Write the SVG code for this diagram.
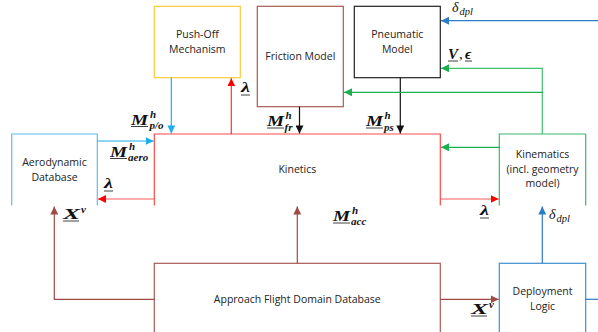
<svg xmlns="http://www.w3.org/2000/svg" width="598" height="332" viewBox="0 0 598 332">
<style>
.box{fill:#fff;stroke-width:1.2}
.lbl{font-family:"Open Sans","Liberation Sans",sans-serif;font-size:10.5px;fill:#222;text-anchor:middle}
.m{font-family:"Liberation Serif","DejaVu Serif",serif;font-weight:bold;font-style:italic;font-size:15px;fill:#111}
.s{font-family:"Liberation Serif","DejaVu Serif",serif;font-weight:bold;font-style:italic;font-size:11px;fill:#111}
.d{font-family:"Liberation Serif","DejaVu Serif",serif;font-style:italic;font-size:14px;fill:#111}
.ds{font-family:"Liberation Serif","DejaVu Serif",serif;font-style:italic;font-size:10.5px;fill:#111}
.c{fill:none;stroke-width:1.2}
.u{stroke:#111;stroke-width:0.8}
</style>
<defs>
<marker id="aR" markerUnits="userSpaceOnUse" markerWidth="10" markerHeight="8" refX="8" refY="4" orient="auto"><path d="M0,0 L8,4 L0,8 z" fill="#ff0000"/></marker>
<marker id="aLB" markerUnits="userSpaceOnUse" markerWidth="10" markerHeight="8" refX="8" refY="4" orient="auto"><path d="M0,0 L8,4 L0,8 z" fill="#1cb0ea"/></marker>
<marker id="aB" markerUnits="userSpaceOnUse" markerWidth="10" markerHeight="8" refX="8" refY="4" orient="auto"><path d="M0,0 L8,4 L0,8 z" fill="#2a7cc7"/></marker>
<marker id="aG" markerUnits="userSpaceOnUse" markerWidth="10" markerHeight="8" refX="8" refY="4" orient="auto"><path d="M0,0 L8,4 L0,8 z" fill="#19b04d"/></marker>
<marker id="aK" markerUnits="userSpaceOnUse" markerWidth="10" markerHeight="8" refX="8" refY="4" orient="auto"><path d="M0,0 L8,4 L0,8 z" fill="#111"/></marker>
<marker id="aBr" markerUnits="userSpaceOnUse" markerWidth="10" markerHeight="8" refX="8" refY="4" orient="auto"><path d="M0,0 L8,4 L0,8 z" fill="#9e4a45"/></marker>
</defs>
<rect width="598" height="332" fill="#fff"/>

<g id="pushoff">
<rect class="box" x="154.3" y="6.3" width="86" height="71.4" stroke="#ffc83c"/>
<text class="lbl" x="197.3" y="38">Push-Off</text>
<text class="lbl" x="197.3" y="52.5">Mechanism</text>
</g>
<g id="friction">
<rect class="box" x="257.3" y="6.3" width="86" height="100.4" stroke="#a85a55"/>
<text class="lbl" x="300.3" y="60">Friction Model</text>
</g>
<g id="pneumatic">
<rect class="box" x="354.3" y="6.3" width="86" height="71.4" stroke="#222"/>
<text class="lbl" x="397.3" y="38">Pneumatic</text>
<text class="lbl" x="397.3" y="53">Model</text>
</g>
<g id="aerodynamic">
<path class="box" d="M11.7,205.6 V134 H97.3 V205.6" stroke="#5bc0eb"/>
<text class="lbl" x="54.5" y="166">Aerodynamic</text>
<text class="lbl" x="54.5" y="181">Database</text>
</g>
<g id="kinetics">
<path class="box" d="M154.3,205.6 V134 H440.3 V205.6" stroke="#ff4a4a"/>
<text class="lbl" x="297.3" y="173">Kinetics</text>
</g>
<g id="kinematics">
<path class="box" d="M499.3,205.6 V134 H585.7 V205.6" stroke="#3cb86e"/>
<text class="lbl" x="542.5" y="158">Kinematics</text>
<text class="lbl" x="542.5" y="172.5">(incl. geometry</text>
<text class="lbl" x="542.5" y="187">model)</text>
</g>
<g id="approach">
<rect class="box" x="154.3" y="263.3" width="286" height="80" stroke="#a85a55"/>
<text class="lbl" x="297.3" y="303">Approach Flight Domain Database</text>
</g>
<g id="deployment">
<rect class="box" x="499.3" y="263.3" width="86.4" height="80" stroke="#3f8fd0"/>
<text class="lbl" x="542.5" y="295">Deployment</text>
<text class="lbl" x="542.5" y="309.5">Logic</text>
</g>

<g id="connectors">
<path class="c" d="M171.3,77.7 V133.4" stroke="#1cb0ea" marker-end="url(#aLB)"/>
<path class="c" d="M231.3,134 V78.3" stroke="#ff3030" marker-end="url(#aR)"/>
<path class="c" d="M299.5,106.7 V133.4" stroke="#111" marker-end="url(#aK)"/>
<path class="c" d="M400.3,77.7 V133.4" stroke="#111" marker-end="url(#aK)"/>
<path class="c" d="M598,20.7 H441" stroke="#2a7cc7" marker-end="url(#aB)"/>
<path class="c" d="M542.3,134 V68.3 H441" stroke="#3cc06a" marker-end="url(#aG)"/>
<path class="c" d="M542.3,92.3 H344" stroke="#19b04d" marker-end="url(#aG)"/>
<path class="c" d="M499.3,147.3 H441" stroke="#19b04d" marker-end="url(#aG)"/>
<path class="c" d="M440.3,199 H498.7" stroke="#ff5a5a" marker-end="url(#aR)"/>
<path class="c" d="M154.3,199 H98" stroke="#ff5a5a" marker-end="url(#aR)"/>
<path class="c" d="M97.3,141 H153.7" stroke="#1cb0ea" marker-end="url(#aLB)"/>
<path class="c" d="M542.3,263.3 V206.5" stroke="#2a7cc7" marker-end="url(#aB)"/>
<path class="c" d="M297.3,263.3 V206.5" stroke="#9e4a45" marker-end="url(#aBr)"/>
<path class="c" d="M154.3,299.3 H54.3 V206.5" stroke="#9e4a45" marker-end="url(#aBr)"/>
<path class="c" d="M440.3,299.3 H498.7" stroke="#9e4a45" marker-end="url(#aBr)"/>
<path class="c" d="M585.7,299.3 H598" stroke="#2a7cc7"/>
</g>

<g id="labels">
<text class="m" x="131" y="124.5" textLength="17" lengthAdjust="spacingAndGlyphs">M</text><text class="s" x="150" y="117.5">h</text><text class="s" x="149.5" y="129">p/o</text>
<line class="u" x1="131" y1="126.5" x2="148" y2="126.5"/>
<text class="m" x="241" y="92" textLength="9" lengthAdjust="spacingAndGlyphs">λ</text><line class="u" x1="241" y1="95" x2="250" y2="95"/>
<text class="m" x="267" y="126" textLength="17" lengthAdjust="spacingAndGlyphs">M</text><text class="s" x="285.5" y="118.5">h</text><text class="s" x="284.5" y="130.5">fr</text>
<line class="u" x1="267" y1="128" x2="284" y2="128"/>
<text class="m" x="366" y="126" textLength="17" lengthAdjust="spacingAndGlyphs">M</text><text class="s" x="384.5" y="118.5">h</text><text class="s" x="384" y="130.5">ps</text>
<line class="u" x1="366" y1="128" x2="383" y2="128"/>
<text class="d" x="452" y="12">δ</text><text class="ds" x="459.5" y="15">dpl</text>
<text class="m" x="448" y="58.5">V</text><text class="m" x="459" y="58.5" style="font-weight:normal;font-style:normal">,</text><text class="m" x="465" y="58.5">ϵ</text>
<line class="u" x1="448" y1="61" x2="458" y2="61"/><line class="u" x1="465" y1="61" x2="472" y2="61"/>
<text class="m" x="110" y="156.5" textLength="17" lengthAdjust="spacingAndGlyphs">M</text><text class="s" x="129" y="149.5">h</text><text class="s" x="128" y="161">aero</text>
<line class="u" x1="110" y1="158.5" x2="127" y2="158.5"/>
<text class="m" x="104" y="188" textLength="9" lengthAdjust="spacingAndGlyphs">λ</text><line class="u" x1="104" y1="191" x2="113" y2="191"/>
<text class="m" x="480" y="215" textLength="9" lengthAdjust="spacingAndGlyphs">λ</text><line class="u" x1="480" y1="218" x2="489" y2="218"/>
<text class="d" x="549" y="219">δ</text><text class="ds" x="556.5" y="222">dpl</text>
<text class="m" x="63" y="219" textLength="17" lengthAdjust="spacingAndGlyphs">X</text><text class="s" x="81" y="212.5">v</text>
<line class="u" x1="63" y1="221" x2="79" y2="221"/>
<text class="m" x="333" y="221" textLength="17" lengthAdjust="spacingAndGlyphs">M</text><text class="s" x="352" y="214">h</text><text class="s" x="351" y="225">acc</text>
<line class="u" x1="333" y1="223" x2="350" y2="223"/>
<text class="m" x="471" y="314" textLength="17" lengthAdjust="spacingAndGlyphs">X</text><text class="s" x="489" y="307.5">v</text>
<line class="u" x1="471" y1="316" x2="487" y2="316"/>
</g>
</svg>
